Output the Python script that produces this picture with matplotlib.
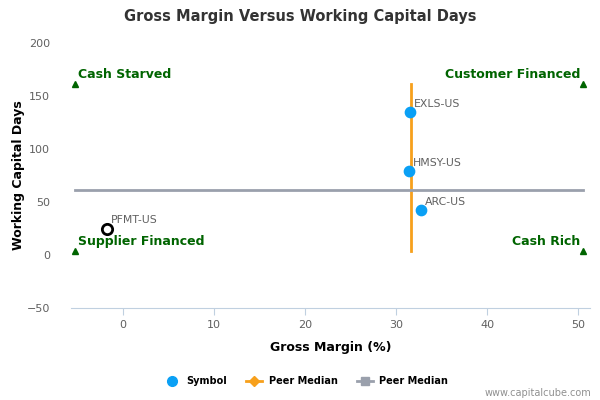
import matplotlib.pyplot as plt
from matplotlib.lines import Line2D

# data
symbols = ['EXLS-US', 'HMSY-US', 'ARC-US']
gross_margin = [31.5, 31.4, 32.7]
wc_days = [135, 79, 42]

self_symbol = 'PFMT-US'
self_margin = -1.8
self_days = 25

peer_median_margin = 31.6
peer_median_days = 61

quad_x = [-5.3, 50.5]
quad_y = [4, 161]
quad_labels = ['Supplier Financed', 'Cash Rich', 'Cash Starved', 'Customer Financed']

fig = plt.figure(figsize=(6, 4), dpi=100)
ax = fig.add_axes([71/600, 0.23, 519/600, 0.6625])

txt = '#606060'
green = '#006400'

ax.set_xlim(-5.7, 51.3)
ax.set_ylim(-50, 200)

# median lines
ax.plot([peer_median_margin, peer_median_margin], quad_y, color='#f7a01c', lw=2, zorder=2)
ax.plot(quad_x, [peer_median_days, peer_median_days], color='#9aa0ac', lw=2, zorder=2)

# quadrant markers
for i, (lab) in enumerate(quad_labels):
    xx = quad_x[i % 2]
    yy = quad_y[i // 2]
    ax.plot(xx, yy, marker='^', color=green, ms=5, zorder=3)
    if i % 2 == 0:
        ax.text(xx + 0.4, yy + 3, lab, color=green, fontsize=9, fontweight='bold', ha='left', va='bottom')
    else:
        ax.text(xx - 0.3, yy + 3, lab, color=green, fontsize=9, fontweight='bold', ha='right', va='bottom')

# peers
ax.scatter(gross_margin, wc_days, s=55, color='#0aa0f5', zorder=4)
for xx, yy, s in zip(gross_margin, wc_days, symbols):
    ax.text(xx + 0.5, yy + 3, s, color=txt, fontsize=7.8, ha='left', va='bottom')

ax.scatter([self_margin], [self_days], s=55, facecolor='white', edgecolor='black', lw=2, zorder=4)
ax.text(self_margin + 0.5, self_days + 3, self_symbol, color=txt, fontsize=7.8, ha='left', va='bottom')

# axes styling
for side in ['top', 'right', 'left']:
    ax.spines[side].set_visible(False)
ax.spines['bottom'].set_color('#c0d0e0')
ax.spines['bottom'].set_position(('data', -50))
ax.set_xticks([0, 10, 20, 30, 40, 50])
ax.set_yticks([-50, 0, 50, 100, 150, 200])
ax.tick_params(axis='x', colors='#c0d0e0', labelcolor=txt, labelsize=8, length=5)
ax.tick_params(axis='y', length=0, labelcolor=txt, labelsize=8, pad=15)

ax.set_xlabel('Gross Margin (%)', fontsize=9, fontweight='bold', labelpad=8)
ax.set_ylabel('Working Capital Days', fontsize=9, fontweight='bold', labelpad=1)
fig.text(0.5, 0.96, 'Gross Margin Versus Working Capital Days', ha='center', va='center',
         fontsize=10.5, fontweight='bold', color='#333333')

handles = [
    Line2D([], [], marker='o', ls='none', color='#0aa0f5', ms=7),
    Line2D([], [], marker='D', color='#f7a01c', lw=2, ms=5),
    Line2D([], [], marker='s', color='#9aa0ac', lw=2, ms=6),
]
fig.legend(handles, ['Symbol', 'Peer Median', 'Peer Median'], loc='center', bbox_to_anchor=(0.51, 0.047),
           ncol=3, frameon=False, prop={'weight': 'bold', 'size': 7}, handlelength=1.6,
           columnspacing=2.0, handletextpad=0.7)
fig.text(0.985, 0.018, 'www.capitalcube.com', ha='right', va='center', fontsize=7, color='#909090')

fig.savefig('out.png', dpi=100)
